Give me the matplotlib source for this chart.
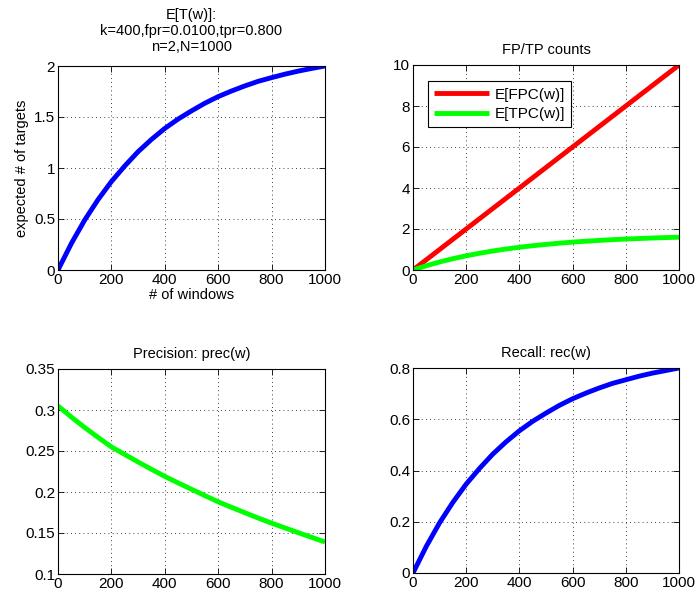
import matplotlib
matplotlib.use("Agg")
import matplotlib.pyplot as plt
from matplotlib.ticker import FuncFormatter

plt.rcParams['font.family'] = ['Liberation Sans', 'DejaVu Sans']
plt.rcParams['font.size'] = 10.5

# values, every 50 windows
windows = [0, 50, 100, 150, 200, 250, 300, 350, 400, 450, 500,
           550, 600, 650, 700, 750, 800, 850, 900, 950, 1000]
exp_targets = [0, 0.26, 0.49, 0.69, 0.867, 1.02, 1.16, 1.28, 1.388, 1.48, 1.56,
               1.635, 1.70, 1.755, 1.805, 1.85, 1.886, 1.92, 1.95, 1.976, 2.0]
fpc = [0, 0.5, 1, 1.5, 2, 2.5, 3, 3.5, 4, 4.5, 5,
       5.5, 6, 6.5, 7, 7.5, 8, 8.5, 9, 9.5, 10]
tpc = [0, 0.208, 0.392, 0.552, 0.694, 0.816, 0.928, 1.024, 1.11, 1.184, 1.248,
       1.308, 1.36, 1.404, 1.444, 1.48, 1.509, 1.536, 1.56, 1.581, 1.6]
precision = [0.305, 0.2914, 0.2786, 0.2666, 0.255, 0.2458, 0.2366, 0.2277, 0.219, 0.2111, 0.2033,
             0.1956, 0.188, 0.1813, 0.1747, 0.1682, 0.162, 0.1562, 0.1504, 0.1447, 0.139]
recall = [0, 0.104, 0.196, 0.276, 0.347, 0.408, 0.464, 0.512, 0.555, 0.592, 0.624,
          0.654, 0.68, 0.702, 0.722, 0.74, 0.754, 0.768, 0.78, 0.79, 0.8]

xticks = [0, 200, 400, 600, 800, 1000]

fig = plt.figure(figsize=(6.95, 5.94), dpi=100)
W, H = 695, 594


def make_ax(left, top, right, bottom):
    return fig.add_axes([left / W, 1 - bottom / H, (right - left) / W, (bottom - top) / H])


def style(ax, yticks):
    ax.set_xlim(0, 1000)
    ax.set_xticks(xticks)
    ax.set_ylim(yticks[0], yticks[-1])
    ax.set_yticks(yticks)
    ax.yaxis.set_major_formatter(FuncFormatter(lambda v, p: "%g" % round(v, 4)))
    ax.grid(True, color="black", linestyle=(0, (1, 4)), linewidth=0.6)
    ax.tick_params(direction="in", top=True, right=True, length=4, width=0.6,
                   labelsize=11, pad=2)
    for s in ax.spines.values():
        s.set_linewidth(0.8)


line_kw = dict(lw=3.5, solid_joinstyle="round", solid_capstyle="butt")

ax1 = make_ax(58, 66, 325, 270)
ax1.plot(windows, exp_targets, color=(0, 0, 1), **line_kw)
style(ax1, [0, 0.5, 1, 1.5, 2])
ax1.set_title("E[T(w)]:\nk=400,fpr=0.0100,tpr=0.800\nn=2,N=1000", fontsize=10.5, pad=11,
              linespacing=1.15)
ax1.set_xlabel("# of windows", labelpad=1)
ax1.set_ylabel("expected # of targets", labelpad=4)

ax2 = make_ax(413, 65, 679, 270)
ax2.plot(windows, fpc, color=(1, 0, 0), label="E[FPC(w)]", **line_kw)
ax2.plot(windows, tpc, color=(0, 1, 0), label="E[TPC(w)]", **line_kw)
style(ax2, [0, 2, 4, 6, 8, 10])
ax2.set_title("FP/TP counts", fontsize=10.5, pad=8)
leg = ax2.legend(loc="upper left", bbox_to_anchor=(0.055, 0.92), fancybox=False,
                 edgecolor="black", framealpha=1, borderaxespad=0, handlelength=3.6,
                 borderpad=0.4, labelspacing=0.35, handletextpad=0.4, fontsize=11)
leg.get_frame().set_linewidth(0.8)

ax3 = make_ax(58, 369, 325, 574)
ax3.plot(windows, precision, color=(0, 1, 0), **line_kw)
style(ax3, [0.1, 0.15, 0.2, 0.25, 0.3, 0.35])
ax3.set_title("Precision: prec(w)", fontsize=10.5, pad=8)

ax4 = make_ax(413, 368, 679, 573)
ax4.plot(windows, recall, color=(0, 0, 1), **line_kw)
style(ax4, [0, 0.2, 0.4, 0.6, 0.8])
ax4.set_title("Recall: rec(w)", fontsize=10.5, pad=8)

fig.savefig("out.png", dpi=100)
